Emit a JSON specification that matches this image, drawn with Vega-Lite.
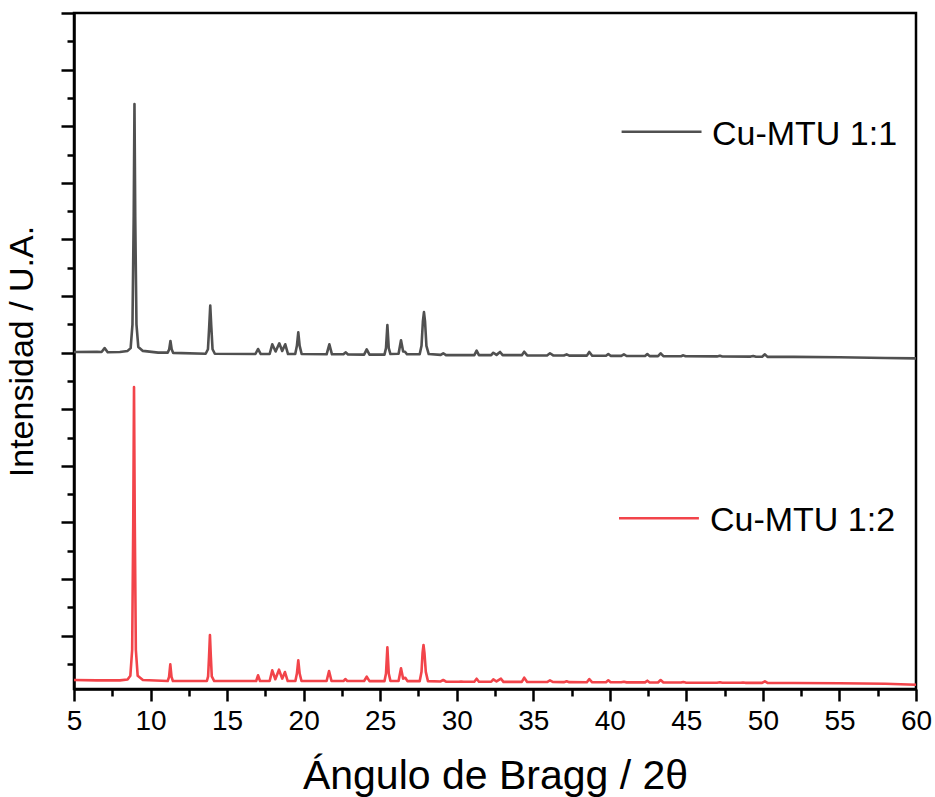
{
  "$schema": "https://vega.github.io/schema/vega-lite/v6.json",
  "width": 842,
  "height": 676,
  "autosize": {"type": "none"},
  "padding": {"left": 74, "top": 13, "right": 19, "bottom": 108},
  "background": "white",
  "config": {
    "view": {"stroke": "black", "strokeWidth": 2.5},
    "font": "Liberation Sans",
    "axis": {"grid": false, "labelFont": "Liberation Sans", "titleFont": "Liberation Sans", "titleFontWeight": "normal", "labelColor": "black", "titleColor": "black", "domainColor": "black", "tickColor": "black", "domainWidth": 2.5, "tickWidth": 2.5}
  },
  "datasets": {
    "xrd": [
      {"s":"1:1","x":5,"y":6.01},{"s":"1:1","x":6.5,"y":6.015},{"s":"1:1","x":6.8,"y":6.011},{"s":"1:1","x":7.0,"y":6.08},{"s":"1:1","x":7.2,"y":6.006},{"s":"1:1","x":8.0,"y":6.01},{"s":"1:1","x":8.5,"y":6.03},{"s":"1:1","x":8.7,"y":6.08},{"s":"1:1","x":8.82,"y":6.5},{"s":"1:1","x":8.9,"y":8.4},{"s":"1:1","x":8.95,"y":10.39},{"s":"1:1","x":9.0,"y":8.4},{"s":"1:1","x":9.08,"y":6.5},{"s":"1:1","x":9.2,"y":6.1},{"s":"1:1","x":9.5,"y":6.03},{"s":"1:1","x":10.5,"y":6.0},{"s":"1:1","x":11.12,"y":6.0},{"s":"1:1","x":11.22,"y":6.06},{"s":"1:1","x":11.3,"y":6.205},{"s":"1:1","x":11.38,"y":6.06},{"s":"1:1","x":11.48,"y":5.995},{"s":"1:1","x":13.6,"y":5.98},{"s":"1:1","x":13.75,"y":6.06},{"s":"1:1","x":13.83,"y":6.45},{"s":"1:1","x":13.9,"y":6.83},{"s":"1:1","x":13.97,"y":6.45},{"s":"1:1","x":14.05,"y":6.06},{"s":"1:1","x":14.2,"y":5.98},{"s":"1:1","x":16.85,"y":5.975},{"s":"1:1","x":17.02,"y":6.064},{"s":"1:1","x":17.2,"y":5.975},{"s":"1:1","x":17.78,"y":5.975},{"s":"1:1","x":17.95,"y":6.147},{"s":"1:1","x":18.17,"y":6.02},{"s":"1:1","x":18.41,"y":6.164},{"s":"1:1","x":18.6,"y":6.03},{"s":"1:1","x":18.8,"y":6.147},{"s":"1:1","x":18.98,"y":5.975},{"s":"1:1","x":19.45,"y":5.975},{"s":"1:1","x":19.56,"y":6.12},{"s":"1:1","x":19.65,"y":6.359},{"s":"1:1","x":19.74,"y":6.12},{"s":"1:1","x":19.87,"y":5.975},{"s":"1:1","x":21.5,"y":5.97},{"s":"1:1","x":21.68,"y":6.147},{"s":"1:1","x":21.85,"y":5.97},{"s":"1:1","x":22.6,"y":5.97},{"s":"1:1","x":22.74,"y":6.005},{"s":"1:1","x":22.9,"y":5.968},{"s":"1:1","x":23.95,"y":5.965},{"s":"1:1","x":24.12,"y":6.058},{"s":"1:1","x":24.3,"y":5.965},{"s":"1:1","x":25.28,"y":5.965},{"s":"1:1","x":25.38,"y":6.08},{"s":"1:1","x":25.47,"y":6.488},{"s":"1:1","x":25.56,"y":6.08},{"s":"1:1","x":25.67,"y":5.975},{"s":"1:1","x":26.2,"y":5.98},{"s":"1:1","x":26.36,"y":6.217},{"s":"1:1","x":26.5,"y":6.02},{"s":"1:1","x":26.62,"y":6.016},{"s":"1:1","x":26.75,"y":5.97},{"s":"1:1","x":27.58,"y":5.97},{"s":"1:1","x":27.7,"y":6.12},{"s":"1:1","x":27.79,"y":6.55},{"s":"1:1","x":27.86,"y":6.717},{"s":"1:1","x":27.93,"y":6.55},{"s":"1:1","x":28.02,"y":6.12},{"s":"1:1","x":28.17,"y":5.975},{"s":"1:1","x":28.95,"y":5.96},{"s":"1:1","x":29.12,"y":5.988},{"s":"1:1","x":29.3,"y":5.955},{"s":"1:1","x":31.15,"y":5.955},{"s":"1:1","x":31.3,"y":6.034},{"s":"1:1","x":31.45,"y":5.955},{"s":"1:1","x":32.25,"y":5.955},{"s":"1:1","x":32.39,"y":5.998},{"s":"1:1","x":32.6,"y":5.96},{"s":"1:1","x":32.83,"y":6.011},{"s":"1:1","x":33.0,"y":5.955},{"s":"1:1","x":34.25,"y":5.955},{"s":"1:1","x":34.41,"y":6.016},{"s":"1:1","x":34.6,"y":5.952},{"s":"1:1","x":35.9,"y":5.95},{"s":"1:1","x":36.09,"y":5.988},{"s":"1:1","x":36.3,"y":5.95},{"s":"1:1","x":37.0,"y":5.948},{"s":"1:1","x":37.18,"y":5.97},{"s":"1:1","x":37.35,"y":5.947},{"s":"1:1","x":38.5,"y":5.947},{"s":"1:1","x":38.66,"y":6.011},{"s":"1:1","x":38.85,"y":5.945},{"s":"1:1","x":39.75,"y":5.945},{"s":"1:1","x":39.9,"y":5.975},{"s":"1:1","x":40.05,"y":5.943},{"s":"1:1","x":40.75,"y":5.943},{"s":"1:1","x":40.92,"y":5.97},{"s":"1:1","x":41.1,"y":5.94},{"s":"1:1","x":42.3,"y":5.94},{"s":"1:1","x":42.45,"y":5.975},{"s":"1:1","x":42.6,"y":5.938},{"s":"1:1","x":43.15,"y":5.938},{"s":"1:1","x":43.32,"y":5.988},{"s":"1:1","x":43.5,"y":5.937},{"s":"1:1","x":44.65,"y":5.937},{"s":"1:1","x":44.8,"y":5.952},{"s":"1:1","x":44.95,"y":5.935},{"s":"1:1","x":47.0,"y":5.933},{"s":"1:1","x":47.19,"y":5.945},{"s":"1:1","x":47.35,"y":5.932},{"s":"1:1","x":49.2,"y":5.93},{"s":"1:1","x":49.37,"y":5.94},{"s":"1:1","x":49.55,"y":5.928},{"s":"1:1","x":49.95,"y":5.928},{"s":"1:1","x":50.13,"y":5.97},{"s":"1:1","x":50.3,"y":5.925},{"s":"1:1","x":52,"y":5.925},{"s":"1:1","x":55,"y":5.917},{"s":"1:1","x":58,"y":5.905},{"s":"1:1","x":60,"y":5.899},
      {"s":"1:2","x":5,"y":0.216},{"s":"1:2","x":6.5,"y":0.21},{"s":"1:2","x":8.0,"y":0.21},{"s":"1:2","x":8.5,"y":0.225},{"s":"1:2","x":8.68,"y":0.29},{"s":"1:2","x":8.8,"y":0.75},{"s":"1:2","x":8.87,"y":3.0},{"s":"1:2","x":8.92,"y":5.392},{"s":"1:2","x":8.97,"y":3.0},{"s":"1:2","x":9.04,"y":0.75},{"s":"1:2","x":9.16,"y":0.29},{"s":"1:2","x":9.5,"y":0.215},{"s":"1:2","x":11.12,"y":0.198},{"s":"1:2","x":11.21,"y":0.27},{"s":"1:2","x":11.29,"y":0.493},{"s":"1:2","x":11.37,"y":0.27},{"s":"1:2","x":11.46,"y":0.198},{"s":"1:2","x":13.68,"y":0.198},{"s":"1:2","x":13.76,"y":0.28},{"s":"1:2","x":13.82,"y":0.62},{"s":"1:2","x":13.88,"y":1.011},{"s":"1:2","x":13.94,"y":0.62},{"s":"1:2","x":14.0,"y":0.28},{"s":"1:2","x":14.16,"y":0.198},{"s":"1:2","x":16.9,"y":0.198},{"s":"1:2","x":17.02,"y":0.299},{"s":"1:2","x":17.15,"y":0.198},{"s":"1:2","x":17.78,"y":0.198},{"s":"1:2","x":17.95,"y":0.387},{"s":"1:2","x":18.15,"y":0.23},{"s":"1:2","x":18.39,"y":0.398},{"s":"1:2","x":18.6,"y":0.24},{"s":"1:2","x":18.78,"y":0.357},{"s":"1:2","x":18.96,"y":0.198},{"s":"1:2","x":19.46,"y":0.198},{"s":"1:2","x":19.56,"y":0.33},{"s":"1:2","x":19.65,"y":0.564},{"s":"1:2","x":19.74,"y":0.33},{"s":"1:2","x":19.86,"y":0.198},{"s":"1:2","x":21.5,"y":0.198},{"s":"1:2","x":21.66,"y":0.375},{"s":"1:2","x":21.82,"y":0.198},{"s":"1:2","x":22.6,"y":0.198},{"s":"1:2","x":22.72,"y":0.233},{"s":"1:2","x":22.85,"y":0.198},{"s":"1:2","x":23.95,"y":0.198},{"s":"1:2","x":24.12,"y":0.274},{"s":"1:2","x":24.3,"y":0.196},{"s":"1:2","x":25.28,"y":0.196},{"s":"1:2","x":25.38,"y":0.33},{"s":"1:2","x":25.47,"y":0.793},{"s":"1:2","x":25.56,"y":0.33},{"s":"1:2","x":25.67,"y":0.198},{"s":"1:2","x":26.2,"y":0.2},{"s":"1:2","x":26.36,"y":0.422},{"s":"1:2","x":26.5,"y":0.24},{"s":"1:2","x":26.64,"y":0.256},{"s":"1:2","x":26.78,"y":0.196},{"s":"1:2","x":27.58,"y":0.196},{"s":"1:2","x":27.7,"y":0.36},{"s":"1:2","x":27.77,"y":0.7},{"s":"1:2","x":27.83,"y":0.834},{"s":"1:2","x":27.89,"y":0.7},{"s":"1:2","x":27.98,"y":0.36},{"s":"1:2","x":28.12,"y":0.196},{"s":"1:2","x":28.95,"y":0.19},{"s":"1:2","x":29.12,"y":0.216},{"s":"1:2","x":29.3,"y":0.188},{"s":"1:2","x":30.15,"y":0.186},{"s":"1:2","x":30.28,"y":0.19},{"s":"1:2","x":30.45,"y":0.186},{"s":"1:2","x":31.15,"y":0.186},{"s":"1:2","x":31.3,"y":0.239},{"s":"1:2","x":31.45,"y":0.185},{"s":"1:2","x":32.25,"y":0.185},{"s":"1:2","x":32.39,"y":0.228},{"s":"1:2","x":32.6,"y":0.19},{"s":"1:2","x":32.89,"y":0.239},{"s":"1:2","x":33.05,"y":0.183},{"s":"1:2","x":34.25,"y":0.183},{"s":"1:2","x":34.41,"y":0.256},{"s":"1:2","x":34.6,"y":0.182},{"s":"1:2","x":35.9,"y":0.18},{"s":"1:2","x":36.09,"y":0.21},{"s":"1:2","x":36.3,"y":0.18},{"s":"1:2","x":37.0,"y":0.178},{"s":"1:2","x":37.18,"y":0.193},{"s":"1:2","x":37.35,"y":0.178},{"s":"1:2","x":38.5,"y":0.177},{"s":"1:2","x":38.66,"y":0.233},{"s":"1:2","x":38.85,"y":0.176},{"s":"1:2","x":39.75,"y":0.176},{"s":"1:2","x":39.9,"y":0.21},{"s":"1:2","x":40.05,"y":0.175},{"s":"1:2","x":40.75,"y":0.175},{"s":"1:2","x":40.92,"y":0.186},{"s":"1:2","x":41.1,"y":0.174},{"s":"1:2","x":42.3,"y":0.174},{"s":"1:2","x":42.45,"y":0.204},{"s":"1:2","x":42.6,"y":0.173},{"s":"1:2","x":43.15,"y":0.173},{"s":"1:2","x":43.32,"y":0.216},{"s":"1:2","x":43.5,"y":0.172},{"s":"1:2","x":44.65,"y":0.172},{"s":"1:2","x":44.8,"y":0.18},{"s":"1:2","x":44.95,"y":0.17},{"s":"1:2","x":47.0,"y":0.168},{"s":"1:2","x":47.19,"y":0.175},{"s":"1:2","x":47.35,"y":0.167},{"s":"1:2","x":48.55,"y":0.167},{"s":"1:2","x":48.7,"y":0.172},{"s":"1:2","x":48.85,"y":0.166},{"s":"1:2","x":49.95,"y":0.166},{"s":"1:2","x":50.13,"y":0.193},{"s":"1:2","x":50.3,"y":0.165},{"s":"1:2","x":52,"y":0.163},{"s":"1:2","x":55,"y":0.158},{"s":"1:2","x":58,"y":0.15},{"s":"1:2","x":60,"y":0.133}
    ],
    "leg": [
      {"s":"1:1","label":"Cu-MTU 1:1","x":40.77,"x2":45.99,"y":9.903,"tx":46.67,"ty":9.668},
      {"s":"1:2","label":"Cu-MTU 1:2","x":40.6,"x2":45.82,"y":3.072,"tx":46.54,"ty":2.848}
    ]
  },
  "layer": [
    {
      "data": {"name": "xrd"},
      "mark": {"type": "line", "strokeWidth": 2.6, "interpolate": "linear", "strokeJoin": "round"},
      "encoding": {
        "x": {"field": "x", "type": "quantitative", "scale": {"domain": [5, 60], "nice": false, "zero": false},
              "axis": {"orient": "bottom", "values": [5,10,15,20,25,30,35,40,45,50,55,60], "tickSize": 12, "labelFontSize": 28, "labelPadding": 6, "title": "Ángulo de Bragg / 2θ", "titleFontSize": 41, "titlePadding": 21, "labelFlush": false}},
        "y": {"field": "y", "type": "quantitative", "scale": {"domain": [0.057, 12], "nice": false, "zero": false},
              "axis": {"orient": "left", "values": [1,2,3,4,5,6,7,8,9,10,11,12], "tickSize": 13, "labels": false, "title": "Intensidad / U.A.", "titleFontSize": 34, "titlePadding": 20}},
        "color": {"field": "s", "type": "nominal", "scale": {"domain": ["1:1", "1:2"], "range": ["#505050", "#f2444a"]}, "legend": null},
        "detail": {"field": "s"}
      }
    },
    {
      "data": {"name": "leg"},
      "mark": {"type": "rule", "strokeWidth": 2.5},
      "encoding": {
        "x": {"field": "x", "type": "quantitative",
              "axis": {"orient": "bottom", "values": [7.5,12.5,17.5,22.5,27.5,32.5,37.5,42.5,47.5,52.5,57.5], "tickSize": 7, "labels": false, "domain": false, "title": null}},
        "x2": {"field": "x2"},
        "y": {"field": "y", "type": "quantitative",
              "axis": {"orient": "left", "values": [0.5,1.5,2.5,3.5,4.5,5.5,6.5,7.5,8.5,9.5,10.5,11.5], "tickSize": 7, "labels": false, "domain": false, "title": null}},
        "color": {"field": "s", "type": "nominal", "legend": null}
      }
    },
    {
      "data": {"name": "leg"},
      "mark": {"type": "text", "fontSize": 34, "font": "Liberation Sans", "align": "left", "baseline": "alphabetic", "color": "black"},
      "encoding": {
        "x": {"field": "tx", "type": "quantitative", "axis": null},
        "y": {"field": "ty", "type": "quantitative", "axis": null},
        "text": {"field": "label"}
      }
    }
  ],
  "resolve": {"axis": {"x": "independent", "y": "independent"}}
}
